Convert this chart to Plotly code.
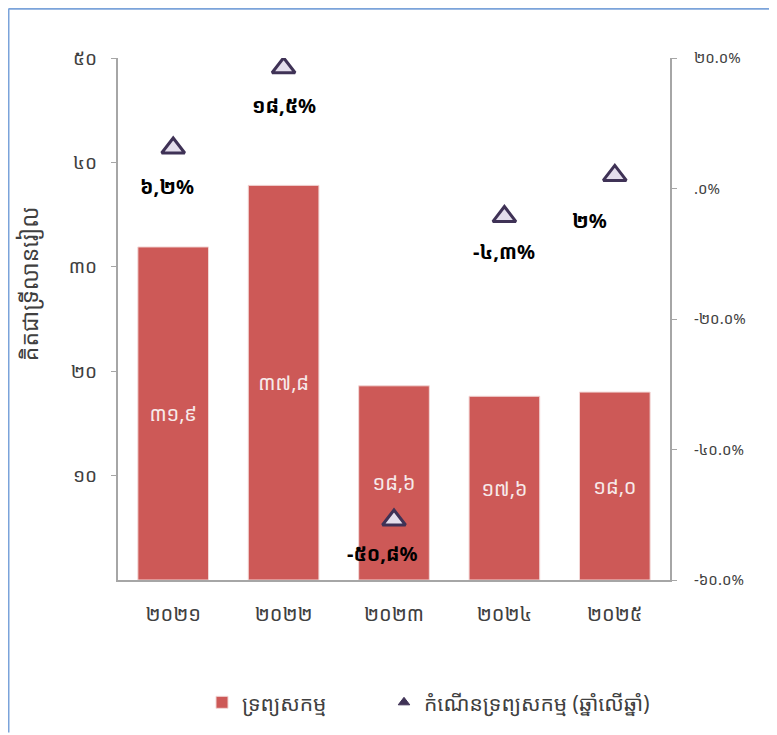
import plotly.graph_objects as go

years = ["២០២១", "២០២២", "២០២៣", "២០២៤", "២០២៥"]
assets = [31.9, 37.8, 18.6, 17.6, 18.0]
asset_labels = ["៣១,៩", "៣៧,៨", "១៨,៦", "១៧,៦", "១៨,០"]
growth = [6.2, 18.5, -50.8, -4.3, 2.0]
growth_labels = ["៦,២%", "១៨,៥%", "-៥០,៨%", "-៤,៣%", "២%"]
left_ticks = [10, 20, 30, 40, 50]
left_tick_labels = ["១០", "២០", "៣០", "៤០", "៥០"]
right_ticks = [-60, -40, -20, 0, 20]
right_tick_labels = ["-៦០.០%", "-៤០.០%", "-២០.០%", ".០%", "២០.០%"]
bar_name = "ទ្រព្យសកម្ម"
line_name = "កំណើនទ្រព្យសកម្ម (ឆ្នាំលើឆ្នាំ)"
y_title = "គិតជាទ្រីលានរៀល"

FONT = "Noto Sans Khmer, Khmer OS, Khmer OS System, DejaVu Sans, sans-serif"
GREY = "#404040"
W, H = 769, 727
L, R, T, B = 110, 107, 50, 153
PW, PH = W - L - R, H - T - B

fig = go.Figure()
fig.add_trace(go.Bar(
    x=years, y=assets, name=bar_name, legend="legend",
    marker=dict(color="#CD5957", line=dict(color="#F2D7D6", width=1)),
    text=asset_labels, textposition="inside", insidetextanchor="middle",
    textfont=dict(color="#F7EAEA", size=20, family=FONT),
    width=0.64, yaxis="y",
))
fig.add_trace(go.Scatter(
    x=years, y=growth, name=line_name, mode="markers", yaxis="y2",
    showlegend=False,
    marker=dict(symbol="triangle-up", size=20, color="#E4DEEC",
                line=dict(color="#3F3256", width=3)),
))
# legend entry with small filled triangle
fig.add_trace(go.Scatter(
    x=[years[0]], y=[None], name=line_name, mode="markers", yaxis="y2",
    legend="legend2",
    marker=dict(symbol="triangle-up", size=10, color="#3F3256",
                line=dict(color="#3F3256", width=1)),
))

label_dx = [-6, 0, -12, 0, -25]
label_dy = [-38, -38, -34, -35, -45]
for yr, g, t, dx, dy in zip(years, growth, growth_labels, label_dx, label_dy):
    fig.add_annotation(x=yr, y=g, yref="y2", text="<b>" + t + "</b>",
                       showarrow=False, xshift=dx, yshift=dy,
                       font=dict(size=20, color="#000000", family=FONT))

fig.add_annotation(xref="paper", yref="paper", x=(21 - L) / PW, y=(T + PH - 277) / PH,
                   xanchor="center", yanchor="middle",
                   text=y_title, textangle=-90, showarrow=False,
                   font=dict(size=23, color=GREY, family=FONT))

# outer frame lines (top and left)
fx = (0.5 - L) / PW
fy = (T + PH - 0.5) / PH
fig.add_shape(type="line", xref="paper", yref="paper", x0=fx, x1=(W - L) / PW,
              y0=fy, y1=fy, line=dict(color="#7BA3DA", width=2))
fig.add_shape(type="line", xref="paper", yref="paper", x0=fx, x1=fx,
              y0=-B / PH, y1=fy, line=dict(color="#7BA3DA", width=2))

leg_common = dict(orientation="h", y=-0.235, xanchor="left", yanchor="middle",
                  font=dict(size=21, color=GREY, family=FONT), itemwidth=30,
                  bgcolor="rgba(0,0,0,0)")

fig.update_layout(
    width=W, height=H,
    margin=dict(l=L, r=R, t=T, b=B),
    paper_bgcolor="white", plot_bgcolor="white",
    font=dict(family=FONT, color=GREY, size=16),
    showlegend=True,
    legend=dict(x=(194 - L) / PW, **leg_common),
    legend2=dict(x=(376 - L) / PW, **leg_common),
    xaxis=dict(showline=True, linecolor="#A6A6A6", linewidth=2, ticks="",
               tickfont=dict(size=20, color=GREY), showgrid=False,
               ticklabelstandoff=15),
    yaxis=dict(range=[0, 50], tickvals=left_ticks, ticktext=left_tick_labels,
               showline=True, linecolor="#A6A6A6", linewidth=2, ticks="outside",
               ticklen=5, tickcolor="#A6A6A6", showgrid=False, zeroline=False,
               tickfont=dict(size=19, color=GREY), ticklabelstandoff=10),
    yaxis2=dict(range=[-60, 20], tickvals=right_ticks, ticktext=right_tick_labels,
                overlaying="y", side="right", showline=True, linecolor="#A6A6A6",
                linewidth=2, ticks="outside", ticklen=5, tickcolor="#A6A6A6",
                showgrid=False, zeroline=False, tickfont=dict(size=15, color=GREY),
                ticklabelstandoff=14),
)

fig.write_html("out.html")
